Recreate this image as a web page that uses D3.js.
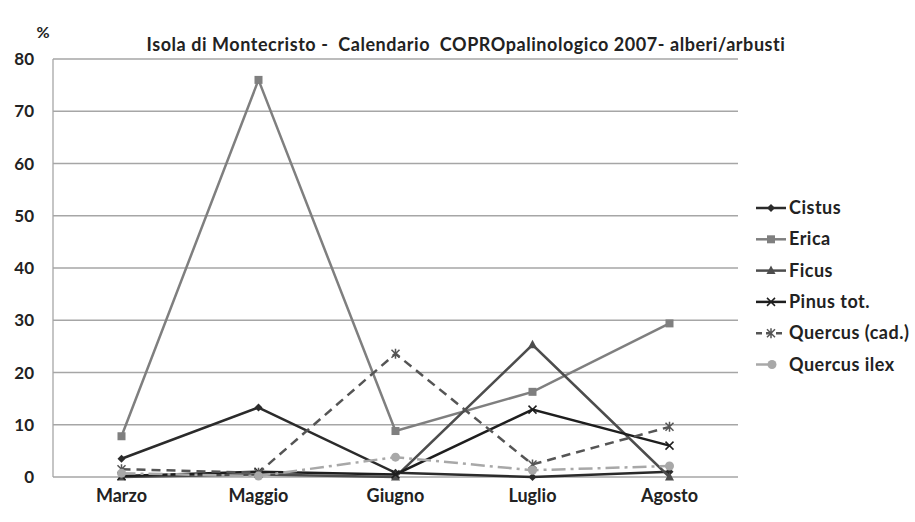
<!DOCTYPE html>
<html>
<head>
<meta charset="utf-8">
<script src="https://cdn.jsdelivr.net/npm/d3@7"></script>
<style>
  body { margin: 0; background: #fff; }
  text { font-family: Lato, "Open Sans", sans-serif; font-weight: bold; fill: #222; white-space: pre; }
</style>
</head>
<body>
<svg id="chart" width="915" height="522"></svg>
<script>
// values, in %
var months = ["Marzo", "Maggio", "Giugno", "Luglio", "Agosto"]
var yTicks = [0, 10, 20, 30, 40, 50, 60, 70, 80]

var cistus = [3.5, 13.3, 0.8, 0, 1]
var erica = [7.8, 76, 8.8, 16.3, 29.4]
var ficus = [0, 0.5, 0, 25.3, 0]
var pinus = [0.2, 1, 0.5, 12.9, 6]
var quercusCad = [1.5, 0.8, 23.6, 2.4, 9.6]
var quercusIlex = [0.7, 0.2, 3.8, 1.3, 2.1]

var series = [
  {name: "Cistus", values: cistus, color: "#2b2b2b", dash: null, marker: "diamond"},
  {name: "Erica", values: erica, color: "#7f7f7f", dash: null, marker: "square"},
  {name: "Ficus", values: ficus, color: "#4d4d4d", dash: null, marker: "triangle"},
  {name: "Pinus tot.", values: pinus, color: "#1e1e1e", dash: null, marker: "x"},
  {name: "Quercus (cad.)", values: quercusCad, color: "#555", dash: "9,6", marker: "star"},
  {name: "Quercus ilex", values: quercusIlex, color: "#a8a8a8", dash: "14,5,3,5", marker: "circle"}
]

var svg = d3.select('#chart')
var plotLeft = 53, plotRight = 738, plotTop = 59, plotBottom = 477

var x = d3.scaleBand().domain(months).range([plotLeft, plotRight])
var y = d3.scaleLinear().domain([0, 80]).range([plotBottom, plotTop])

// gridlines
svg.append('g')
  .selectAll('line')
  .data(yTicks)
  .enter().append('line')
  .attr('x1', plotLeft).attr('x2', plotRight)
  .attr('y1', d => y(d)).attr('y2', d => y(d))
  .attr('stroke', '#a6a6a6')
  .attr('stroke-width', 1.3)

svg.append('line')
  .attr('x1', plotLeft).attr('x2', plotLeft)
  .attr('y1', plotTop).attr('y2', plotBottom)
  .attr('stroke', '#a6a6a6')
  .attr('stroke-width', 1.3)

// y labels
svg.append('g')
  .selectAll('text')
  .data(yTicks)
  .enter().append('text')
  .attr('x', 34)
  .attr('y', d => y(d) + 6)
  .attr('text-anchor', 'end')
  .attr('font-size', 17)
  .text(d => d)

// x labels
svg.append('g')
  .selectAll('text')
  .data(months)
  .enter().append('text')
  .attr('x', d => x(d) + x.bandwidth() / 2)
  .attr('y', 502)
  .attr('text-anchor', 'middle')
  .attr('font-size', 18)
  .text(d => d)

svg.append('text')
  .attr('x', 466).attr('y', 51)
  .attr('text-anchor', 'middle')
  .attr('font-size', 18)
  .attr('letter-spacing', 0.55)
  .text('Isola di Montecristo -  Calendario  COPROpalinologico 2007- alberi/arbusti')

svg.append('text')
  .attr('x', 43).attr('y', 38)
  .attr('text-anchor', 'middle')
  .attr('font-size', 16)
  .attr('font-weight', 'normal')
  .text('%')

function drawMarker(g, type, color) {
  if (type == "diamond") {
    g.append('path').attr('d', 'M0,-4L4,0L0,4L-4,0Z').attr('fill', color)
  } else if (type == "square") {
    g.append('rect').attr('x', -4).attr('y', -4).attr('width', 8).attr('height', 8).attr('fill', color)
  } else if (type == "triangle") {
    g.append('path').attr('d', 'M0,-5L4.5,3.5L-4.5,3.5Z').attr('fill', color)
  } else if (type == "circle") {
    g.append('circle').attr('r', 4.5).attr('fill', color)
  } else if (type == "x") {
    g.append('path').attr('d', 'M-4,-4L4,4M-4,4L4,-4').attr('stroke', color).attr('stroke-width', 1.5)
  } else if (type == "star") {
    g.append('path').attr('d', 'M-4,-4L4,4M-4,4L4,-4M0,-5L0,5').attr('stroke', color).attr('stroke-width', 1.5)
  }
}

var line = d3.line()
  .x((d, i) => x(months[i]) + x.bandwidth() / 2)
  .y(d => y(d))

series.forEach(function(s) {
  svg.append('path')
    .attr('d', line(s.values))
    .attr('fill', 'none')
    .attr('stroke', s.color)
    .attr('stroke-width', 2.5)
    .attr('stroke-dasharray', s.dash)
  s.values.forEach(function(v, i) {
    var g = svg.append('g')
      .attr('transform', 'translate(' + (x(months[i]) + x.bandwidth() / 2) + ',' + y(v) + ')')
    drawMarker(g, s.marker, s.color)
  })
})

// legend
var legend = svg.append('g')
series.forEach(function(s, i) {
  var ly = 208 + i * 31.3
  var lx2 = s.marker == "circle" ? 772 : 786
  legend.append('line')
    .attr('x1', 756).attr('x2', lx2)
    .attr('y1', ly).attr('y2', ly)
    .attr('stroke', s.color)
    .attr('stroke-width', 2.5)
    .attr('stroke-dasharray', s.marker == "star" ? "6,4" : null)
  var g = legend.append('g').attr('transform', 'translate(' + (s.marker == "circle" ? 772 : 771) + ',' + ly + ')')
  drawMarker(g, s.marker, s.color)
  legend.append('text')
    .attr('x', 789).attr('y', ly + 6)
    .attr('font-size', 18)
    .attr('letter-spacing', 0.5)
    .text(s.name)
})
</script>
</body>
</html>
